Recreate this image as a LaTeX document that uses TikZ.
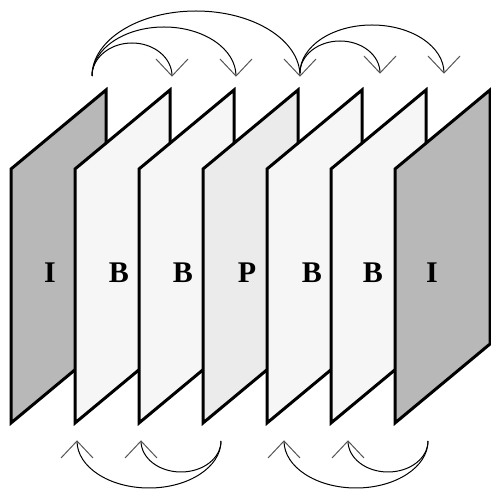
\documentclass[tikz,border=0pt]{standalone}
\usepackage{fontspec}
\setmainfont{Liberation Serif}
\newfontfamily\lblfont{Liberation Serif Bold}
\definecolor{igray}{RGB}{184,184,184}
\definecolor{bfill}{RGB}{246,246,246}
\definecolor{pfill}{RGB}{235,235,235}
\definecolor{tipgray}{RGB}{85,85,85}
\begin{document}
\begin{tikzpicture}[x=1pt,y=1pt,
  panel/.style={draw=black, line width=3pt, line join=miter},
  lbl/.style={font=\lblfont\fontsize{30}{30}\selectfont, inner sep=0pt},
  arcline/.style={draw=black, line width=1pt},
  tipline/.style={draw=tipgray, line width=1pt}]
\useasboundingbox (0,0) rectangle (491,490);

% panels, drawn left to right
\foreach \i/\c in {0/igray,1/bfill,2/bfill,3/pfill,4/bfill,5/bfill,6/igray}{
  \filldraw[panel, fill=\c] (11+64*\i,67) -- (11+64*\i,321) -- (106+64*\i,400) -- (106+64*\i,146) -- cycle;
}

% labels
\node[lbl] (l1) at (50,217) {I};
\node[lbl] (l2) at (119,217) {B};
\node[lbl] (l3) at (183,217) {B};
\node[lbl] (l4) at (247,217) {P};
\node[lbl] (l5) at (312,217) {B};
\node[lbl] (l6) at (373,217) {B};
\node[lbl] (l7) at (432,217) {I};

% top arrows
\coordinate (sI) at (92,414);
\coordinate (t1) at (172,414);
\coordinate (t2) at (236,414);
\coordinate (t3) at (300,414);
\coordinate (sP) at (300,417);
\coordinate (t4) at (380,417);
\coordinate (t5) at (444,417);

\draw[arcline] (sI) arc[start angle=180, end angle=0, x radius=40, y radius=33];
\draw[arcline] (sI) arc[start angle=180, end angle=0, x radius=72, y radius=49];
\draw[arcline] (sI) arc[start angle=180, end angle=0, x radius=104, y radius=65];
\draw[arcline] (sP) arc[start angle=180, end angle=0, x radius=40, y radius=32];
\draw[arcline] (sP) arc[start angle=180, end angle=0, x radius=72, y radius=48];

\foreach \t in {t1,t2,t3,t4,t5}{
  \draw[tipline] (\t) ++(-16,17) -- (\t) -- ++(16,17);
}

% bottom arrows
\coordinate (sB1) at (221,49);
\coordinate (sB2) at (428,49);
\coordinate (b1) at (77,49);
\coordinate (b2) at (141,49);
\coordinate (b3) at (284,49);
\coordinate (b4) at (348,49);

\draw[arcline] (sB1) arc[start angle=0, end angle=-180, x radius=72, y radius=47];
\draw[arcline] (sB1) arc[start angle=0, end angle=-180, x radius=40, y radius=31];
\draw[arcline] (sB2) arc[start angle=0, end angle=-180, x radius=72, y radius=47];
\draw[arcline] (sB2) arc[start angle=0, end angle=-180, x radius=40, y radius=31];

\foreach \t in {b1,b2,b3,b4}{
  \draw[tipline] (\t) ++(-16,-17) -- (\t) -- ++(16,-17);
}
\end{tikzpicture}
\end{document}
